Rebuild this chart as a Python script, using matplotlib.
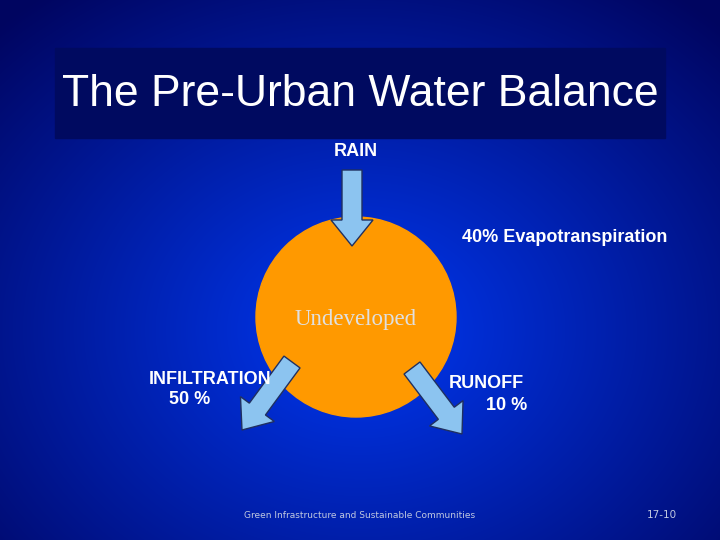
import numpy as np
import matplotlib
matplotlib.use("Agg")
import matplotlib.pyplot as plt
from matplotlib.patches import Circle, Rectangle, FancyArrow

title = "The Pre-Urban Water Balance"
center_label = "Undeveloped"
flows = ["Evapotranspiration", "INFILTRATION", "RUNOFF"]
percents = [40, 50, 10]
footer = "Green Infrastructure and Sustainable Communities"
page = "17-10"

fig = plt.figure(figsize=(7.2, 5.4), dpi=100)
ax = fig.add_axes([0, 0, 1, 1])
ax.set_xlim(0, 720); ax.set_ylim(540, 0); ax.axis("off")

yy, xx = np.mgrid[0:540, 0:720]
d = np.sqrt(((xx - 360) / 520) ** 2 + ((yy - 330) / 420) ** 2)
t = np.clip(d, 0, 1)[..., None]
c_in = np.array([0.0, 0.22, 0.95]); c_out = np.array([0.0, 0.02, 0.38])
img = c_in * (1 - t) + c_out * t
ax.imshow(img, extent=(0, 720, 540, 0), zorder=0)

ax.add_patch(Rectangle((55, 48), 610, 90, color="#000a60", zorder=1))
ax.text(360, 95, title, color="white", fontsize=32, ha="center", va="center",
        family="Liberation Sans", zorder=2)

ax.add_patch(Circle((356, 317), 100, color="#ff9900", zorder=2))
ax.text(356, 319, center_label, color="#e0e0e0", fontsize=16.5, ha="center",
        va="center", family="Liberation Serif", zorder=5)

akw = dict(width=20, head_width=42, head_length=26, length_includes_head=True,
           facecolor="#8cc4f0", edgecolor="#203060", lw=1, zorder=4)
ax.add_patch(FancyArrow(352, 170, 0, 76, **akw))
ax.add_patch(FancyArrow(292, 362, -50, 68, **akw))
ax.add_patch(FancyArrow(412, 368, 50, 66, **akw))

tk = dict(color="white", fontsize=13, family="Liberation Sans", fontweight="bold", zorder=6)
ax.text(356, 151, "RAIN", ha="center", va="center", **tk)
ax.text(565, 237, f"{percents[0]}% {flows[0]}", ha="center", va="center", **tk)
ax.text(210, 379, flows[1], ha="center", va="center", **tk)
ax.text(190, 400, f"{percents[1]} %", ha="center", va="center", **tk)
ax.text(486, 384, flows[2], ha="center", va="center", **tk)
ax.text(507, 406, f"{percents[2]} %", ha="center", va="center", **tk)

ax.text(360, 515, footer, color="#c0c8e0", fontsize=6.5, ha="center", va="center")
ax.text(662, 515, page, color="#c0c8e0", fontsize=7.5, ha="center", va="center")

fig.savefig("out.png", dpi=100)
